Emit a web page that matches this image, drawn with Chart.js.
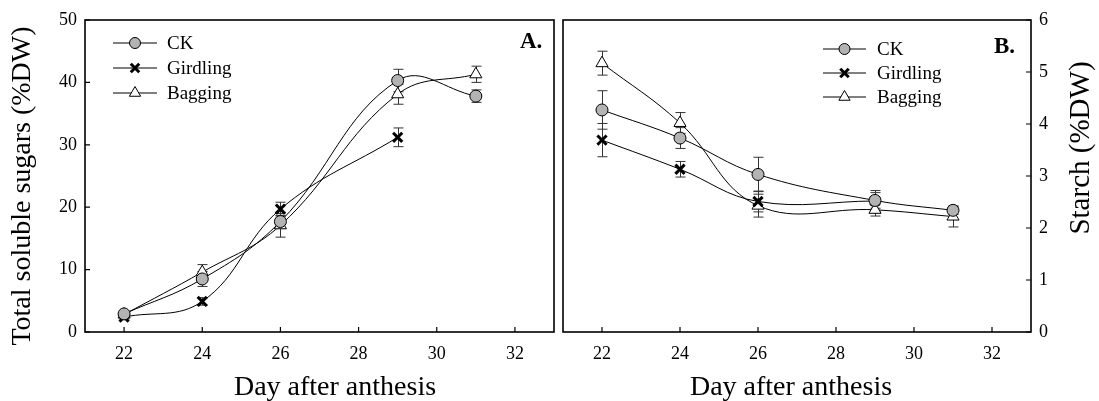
<!DOCTYPE html>
<html><head><meta charset="utf-8">
<script src="https://cdn.jsdelivr.net/npm/chart.js@4"></script>
<style>
html,body{margin:0;padding:0;background:#fff;}
#wrap{position:relative;width:1099px;height:401px;overflow:hidden;background:#fff;}
#c1{position:absolute;left:0;top:0;}
#c2{position:absolute;left:556px;top:0;}
</style></head><body>
<div id="wrap"><canvas id="c1" width="560" height="401"></canvas><canvas id="c2" width="543" height="401"></canvas></div>
<script>
// ---- data ----
const days = [22, 24, 26, 29, 31];
const xTicks = [22, 24, 26, 28, 30, 32];
const sugarTicks = [0, 10, 20, 30, 40, 50];
const starchTicks = [0, 1, 2, 3, 4, 5, 6];
const seriesNames = ['CK', 'Girdling', 'Bagging'];

const sugarCK = [2.9, 8.5, 17.7, 40.3, 37.8];
const sugarCKErr = [0.4, 1.2, 1.0, 1.8, 1.0];
const sugarGirdling = [2.4, 4.9, 19.7, 31.2];
const sugarGirdlingErr = [0.3, 0.6, 1.1, 1.5];
const sugarBagging = [2.8, 9.6, 17.1, 38.1, 41.3];
const sugarBaggingErr = [0.3, 1.2, 1.9, 1.6, 1.3];

const starchCK = [4.27, 3.73, 3.03, 2.53, 2.34];
const starchCKErr = [0.37, 0.2, 0.33, 0.15, 0.08];
const starchGirdling = [3.69, 3.13, 2.51, 2.52];
const starchGirdlingErr = [0.32, 0.15, 0.2, 0.2];
const starchBagging = [5.17, 4.02, 2.43, 2.35, 2.22];
const starchBaggingErr = [0.23, 0.2, 0.22, 0.12, 0.2];

// ---- styles ----
const FONT = "'Liberation Serif', 'Times New Roman', serif";
const styles = [
  {pointStyle: 'circle', pointRadius: 6, pointBackgroundColor: '#b3b3b3', pointBorderWidth: 1},
  {pointStyle: 'crossRot', pointRadius: 6.5, pointBackgroundColor: '#000', pointBorderWidth: 3},
  {pointStyle: 'triangle', pointRadius: 7, pointBackgroundColor: '#fff', pointBorderWidth: 1}
];

function mkDataset(i, vals, errs) {
  return Object.assign({
    label: seriesNames[i],
    data: vals.map((v, k) => ({x: days[k], y: v})),
    errors: errs,
    borderColor: '#000',
    borderWidth: 1,
    pointBorderColor: '#000',
    tension: 0.4,
    fill: false
  }, styles[i]);
}

const panelPlugin = {
  id: 'panel',
  beforeDatasetsDraw(chart) {
    const ctx = chart.ctx, xs = chart.scales.x, ys = chart.scales.y;
    ctx.save();
    ctx.strokeStyle = '#333';
    ctx.lineWidth = 1;
    chart.data.datasets.forEach(ds => {
      ds.data.forEach((p, k) => {
        const e = ds.errors[k];
        const px = Math.round(xs.getPixelForValue(p.x)) + 0.5;
        const y1 = ys.getPixelForValue(p.y + e), y2 = ys.getPixelForValue(p.y - e);
        ctx.beginPath();
        ctx.moveTo(px, y1); ctx.lineTo(px, y2);
        ctx.moveTo(px - 5, y1); ctx.lineTo(px + 5, y1);
        ctx.moveTo(px - 5, y2); ctx.lineTo(px + 5, y2);
        ctx.stroke();
      });
    });
    ctx.restore();
  },
  afterDraw(chart) {
    const o = chart.options.plugins.panel;
    const ctx = chart.ctx, a = chart.chartArea, xs = chart.scales.x, ys = chart.scales.y;
    ctx.save();
    // frame
    ctx.strokeStyle = '#000';
    ctx.lineWidth = 1.6;
    ctx.strokeRect(a.left, a.top, a.right - a.left, a.bottom - a.top);
    // inside ticks
    ctx.lineWidth = 1.2;
    ctx.beginPath();
    xTicks.forEach(v => {
      const px = xs.getPixelForValue(v);
      ctx.moveTo(px, a.bottom); ctx.lineTo(px, a.bottom - 5);
    });
    o.yTicks.forEach(v => {
      const py = ys.getPixelForValue(v);
      if (o.right) { ctx.moveTo(a.right, py); ctx.lineTo(a.right - 5, py); }
      else { ctx.moveTo(a.left, py); ctx.lineTo(a.left + 5, py); }
    });
    ctx.stroke();
    // legend
    chart.data.datasets.forEach((ds, i) => {
      const y = o.legend.y[i];
      ctx.strokeStyle = '#000'; ctx.lineWidth = 1;
      ctx.beginPath(); ctx.moveTo(o.legend.x0, y); ctx.lineTo(o.legend.x1, y); ctx.stroke();
      ctx.fillStyle = ds.pointBackgroundColor; ctx.strokeStyle = '#000'; ctx.lineWidth = ds.pointBorderWidth;
      Chart.helpers.drawPoint(ctx, {pointStyle: ds.pointStyle, radius: ds.pointRadius - 0.5, borderWidth: ds.pointBorderWidth, rotation: 0}, (o.legend.x0 + o.legend.x1) / 2, y);
      ctx.fillStyle = '#000';
      ctx.font = '19px ' + FONT;
      ctx.textBaseline = 'middle'; ctx.textAlign = 'left';
      ctx.fillText(ds.label, o.legend.xt, y + 1);
    });
    // panel label
    ctx.fillStyle = '#000';
    ctx.font = 'bold 23px ' + FONT;
    ctx.textBaseline = 'alphabetic'; ctx.textAlign = 'left';
    ctx.fillText(o.label.text, o.label.x, o.label.y);
    // x title
    ctx.font = '28px ' + FONT;
    ctx.textAlign = 'center';
    ctx.fillText('Day after anthesis', o.xTitle.x, o.xTitle.y);
    // y title
    ctx.font = o.yTitle.size + 'px ' + FONT;
    ctx.translate(o.yTitle.x, o.yTitle.y);
    ctx.rotate(-Math.PI / 2);
    ctx.textBaseline = 'middle';
    ctx.fillText(o.yTitle.text, 0, 0);
    ctx.restore();
  }
};

function makeChart(id, datasets, yMax, yTicks, right, panelOpts, pad) {
  return new Chart(document.getElementById(id), {
    type: 'line',
    data: {datasets},
    plugins: [panelPlugin],
    options: {
      responsive: false, animation: false, events: [],
      layout: {padding: pad, autoPadding: false},
      plugins: {legend: {display: false}, tooltip: {enabled: false}, panel: Object.assign({yTicks, right}, panelOpts)},
      scales: {
        x: {
          type: 'linear', min: 21, max: 33,
          afterBuildTicks: s => { s.ticks = xTicks.map(v => ({value: v})); },
          afterFit: s => { s.height = 69; s.paddingLeft = 0; s.paddingRight = 0; },
          grid: {display: false, drawTicks: false}, border: {display: false},
          ticks: {padding: 11, color: '#000', font: {family: FONT, size: 18}}
        },
        y: {
          type: 'linear', position: right ? 'right' : 'left', min: 0, max: yMax,
          afterBuildTicks: s => { s.ticks = yTicks.map(v => ({value: v})); },
          afterFit: s => { s.width = right ? 68 : 85; s.paddingTop = 0; s.paddingBottom = 0; },
          grid: {display: false, drawTicks: false}, border: {display: false},
          ticks: {padding: 8, color: '#000', font: {family: FONT, size: 18}}
        }
      }
    }
  });
}

makeChart('c1', [
  mkDataset(0, sugarCK, sugarCKErr),
  mkDataset(1, sugarGirdling, sugarGirdlingErr),
  mkDataset(2, sugarBagging, sugarBaggingErr)
], 50, sugarTicks, false, {
  legend: {x0: 113, x1: 157, xt: 167, y: [43, 68, 93]},
  label: {text: 'A.', x: 520, y: 48},
  xTitle: {x: 335, y: 395},
  yTitle: {text: 'Total soluble sugars (%DW)', x: 23, y: 186, size: 28}
}, {left: 0, right: 6, top: 20, bottom: 0});

makeChart('c2', [
  mkDataset(0, starchCK, starchCKErr),
  mkDataset(1, starchGirdling, starchGirdlingErr),
  mkDataset(2, starchBagging, starchBaggingErr)
], 6, starchTicks, true, {
  legend: {x0: 267, x1: 310, xt: 321, y: [49, 73, 97]},
  label: {text: 'B.', x: 438, y: 53},
  xTitle: {x: 235, y: 395},
  yTitle: {text: 'Starch (%DW)', x: 525, y: 148, size: 29}
}, {left: 7, right: 0, top: 20, bottom: 0});
</script>
</body></html>
